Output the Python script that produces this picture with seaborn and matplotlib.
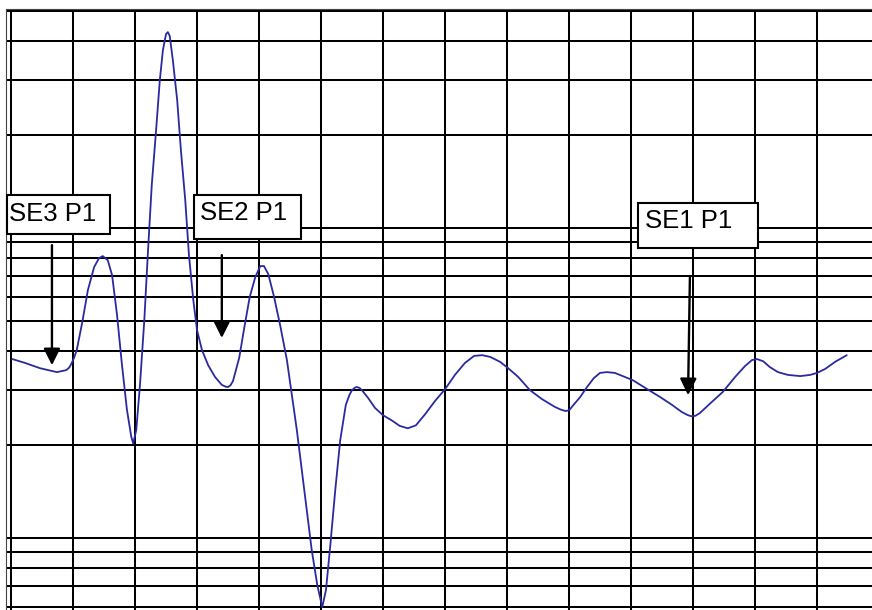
"""Damped waveform on a log-y grid with SE/P1 markers."""

import matplotlib.pyplot as plt
import pandas as pd
import seaborn as sns

# waveform samples (x in grid divisions, y on log scale)
WAVE_X = [
    0.02, 0.23, 0.47, 0.74, 0.89, 0.94, 0.98, 1.02, 1.06, 1.15, 1.24, 1.34, 1.42, 1.48,
    1.56, 1.63, 1.71, 1.79, 1.87, 1.94, 1.97, 2.02, 2.08, 2.15, 2.21, 2.27, 2.34, 2.40,
    2.45, 2.50, 2.53, 2.56, 2.61, 2.68, 2.74, 2.81, 2.87, 2.94, 3.00, 3.08, 3.18, 3.29,
    3.40, 3.46, 3.50, 3.54, 3.58, 3.68, 3.77, 3.85, 3.94, 4.02, 4.08, 4.15, 4.24, 4.34,
    4.45, 4.53, 4.61, 4.69, 4.77, 4.85, 4.94, 5.02, 5.08, 5.15, 5.23, 5.31, 5.40, 5.46,
    5.50, 5.55, 5.58, 5.62, 5.66, 5.76, 5.87, 6.00, 6.15, 6.27, 6.40, 6.53, 6.68, 6.84,
    7.00, 7.16, 7.32, 7.47, 7.60, 7.73, 7.89, 8.02, 8.18, 8.37, 8.56, 8.77, 8.86, 8.94,
    9.00, 9.06, 9.18, 9.29, 9.40, 9.50, 9.61, 9.74, 9.90, 10.03, 10.23, 10.47, 10.66,
    10.82, 10.92, 10.98, 11.04, 11.11, 11.27, 11.48, 11.68, 11.84, 11.95, 12.03, 12.13,
    12.24, 12.37, 12.53, 12.73, 12.89, 13.00, 13.13, 13.29, 13.48,
]
WAVE_Y = [
    3.78, 3.67, 3.53, 3.43, 3.48, 3.55, 3.67, 3.83, 4.04, 4.98, 6.31, 7.48, 8.00, 8.12,
    7.88, 7.05, 5.24, 3.61, 2.59, 2.12, 2.02, 2.23, 3.12, 5.05, 8.49, 13.76, 20.71, 30.02,
    37.52, 42.25, 42.88, 41.64, 34.83, 25.88, 17.85, 12.31, 8.18, 5.86, 4.69, 4.04, 3.61,
    3.31, 3.12, 3.08, 3.07, 3.11, 3.21, 3.81, 4.87, 5.99, 6.95, 7.54, 7.54, 7.10, 6.03,
    4.87, 3.75, 2.89, 2.23, 1.66, 1.23, 0.915, 0.705, 0.599, 0.68, 0.949, 1.43, 2.07,
    2.69, 2.90, 3.00, 3.06, 3.07, 3.05, 3.00, 2.83, 2.63, 2.49, 2.39, 2.30, 2.26, 2.31,
    2.51, 2.77, 3.02, 3.36, 3.67, 3.87, 3.89, 3.84, 3.70, 3.53, 3.31, 3.00, 2.81, 2.65,
    2.60, 2.57, 2.58, 2.67, 2.85, 3.07, 3.28, 3.41, 3.43, 3.41, 3.31, 3.23, 3.05, 2.85,
    2.69, 2.55, 2.49, 2.47, 2.48, 2.53, 2.71, 2.96, 3.31, 3.59, 3.75, 3.78, 3.72, 3.56,
    3.43, 3.36, 3.33, 3.36, 3.41, 3.51, 3.70, 3.89,
]

# grid positions
X_GRID = list(range(0, 14))
Y_GRID = [0.6, 0.7, 0.8, 0.9, 1, 2, 3, 4, 5, 6, 7, 8, 9, 10, 20, 30, 40, 50]

# markers: label, box (x0, x1, y0, y1), text anchor (x, y), arrow tail, arrow tip
LABELS = ["SE3 P1", "SE2 P1", "SE1 P1"]
BOX_X = [(-0.065, 1.60), (2.95, 4.68), (10.11, 12.05)]
BOX_Y = [(9.56, 12.78), (9.21, 12.78), (8.62, 12.04)]
TEXT_XY = [(-0.03, 11.10), (3.05, 11.17), (10.23, 10.53)]
ARROW_TAIL = [(0.66, 8.81), (3.40, 8.18), (10.95, 6.95)]
ARROW_TIP = [(0.66, 3.61), (3.40, 4.42), (10.92, 2.89)]

sns.set_style("white")
plt.rcParams["font.family"] = ["Liberation Sans", "DejaVu Sans"]

fig = plt.figure(figsize=(8.72, 6.10), dpi=100)
ax = fig.add_axes([6 / 872, 0, 866 / 872, 601 / 610])

df = pd.DataFrame({"x": WAVE_X, "y": WAVE_Y})
sns.lineplot(data=df, x="x", y="y", ax=ax, color="#2a2aa0", lw=1.3,
             estimator=None, sort=False, zorder=4, solid_joinstyle="round")

ax.set_yscale("log")
ax.set_xlim(-0.081, 13.887)
ax.set_ylim(0.586, 50.9)
ax.set_xticks(X_GRID)
ax.set_yticks(Y_GRID)
ax.minorticks_off()
ax.tick_params(length=0, labelleft=False, labelbottom=False)
ax.grid(True, color="black", lw=1.45, zorder=1)
ax.set_axisbelow(True)
ax.set_xlabel("")
ax.set_ylabel("")
for side in ["right", "bottom"]:
    ax.spines[side].set_visible(False)
for side in ["left", "top"]:
    ax.spines[side].set_color("#444444")
    ax.spines[side].set_linewidth(0.8)

for label, bx, by, txy, tail, tip in zip(LABELS, BOX_X, BOX_Y, TEXT_XY, ARROW_TAIL, ARROW_TIP):
    rect = plt.Rectangle((bx[0], by[0]), bx[1] - bx[0], by[1] - by[0],
                         facecolor="white", edgecolor="black", lw=1.5, zorder=6,
                         clip_on=False)
    ax.add_patch(rect)
    ax.text(txy[0], txy[1], label, fontsize=18.5, ha="left", va="center",
            color="black", zorder=7)
    ax.annotate("", xy=tip, xytext=tail,
                arrowprops=dict(arrowstyle="-|>,head_length=1.0,head_width=0.5",
                                color="black", lw=1.7, shrinkA=0, shrinkB=0),
                zorder=5)

fig.savefig("out.png", dpi=100)
